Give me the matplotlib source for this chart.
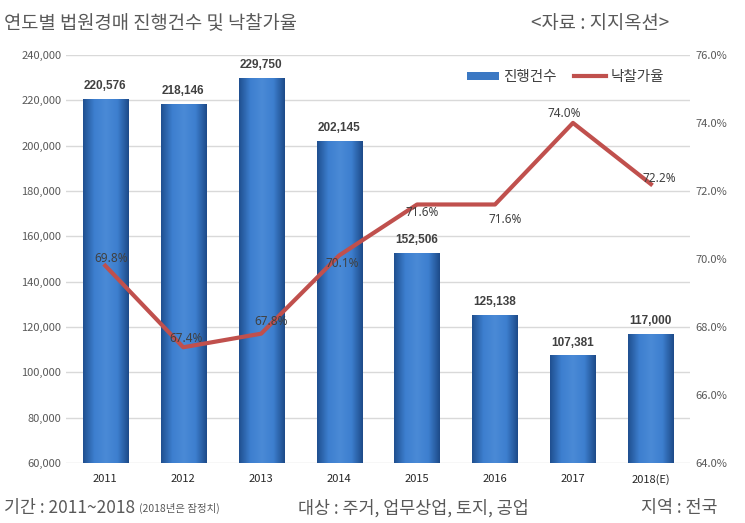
import numpy as np
import matplotlib
matplotlib.use("Agg")
import matplotlib.pyplot as plt
from matplotlib.colors import LinearSegmentedColormap

plt.rcParams['font.family'] = ['Noto Sans CJK KR', 'DejaVu Sans']

# data
years = ["2011", "2012", "2013", "2014", "2015", "2016", "2017", "2018(E)"]
cases = [220576, 218146, 229750, 202145, 152506, 125138, 107381, 117000]
rates = [69.8, 67.4, 67.8, 70.1, 71.6, 71.6, 74.0, 72.2]

# label offsets for the rate labels (points)
rate_offsets = [(4, 5), (2, 6), (7, 9), (2, -6), (4, -6), (7, -11), (-6, 7), (6, 4)]

fig = plt.figure(figsize=(7.45, 5.23), dpi=100)
ax = fig.add_axes([0.089, 0.115, 0.837, 0.78])
ax2 = ax.twinx()

x = np.arange(len(years))
bar_w = 0.58
bars = ax.bar(x, cases, width=bar_w, color="#3b78c3", zorder=2,
              label="진행건수")

# horizontal gradient on each bar
grad = LinearSegmentedColormap.from_list(
    "g", ["#1f4f8f", "#3d7fcf", "#4a8ad6", "#3d7fcf", "#1d4a88"])
img = np.linspace(0, 1, 256).reshape(1, -1)
for b in bars:
    x0, w, h = b.get_x(), b.get_width(), b.get_height()
    im = ax.imshow(img, cmap=grad, aspect="auto", zorder=2.1,
                   extent=[x0, x0 + w, 60000, h])
    im.set_clip_path(b)

for xi, v in zip(x, cases):
    ax.annotate(f"{v:,}", (xi, v), xytext=(0, 5), textcoords="offset points",
                ha="center", va="bottom", fontsize=8.5, fontweight="bold",
                color="#404040", family=["Liberation Sans"], zorder=5)

ax.set_ylim(60000, 240000)
ax.set_yticks(np.arange(60000, 240001, 20000))
ax.set_yticklabels([f"{v:,}" for v in range(60000, 240001, 20000)])
ax.set_xlim(-0.5, len(years) - 0.5)
ax.set_xticks(x)
ax.set_xticklabels(years)
ax.grid(axis="y", color="#d9d9d9", linewidth=1, zorder=0)
ax.set_axisbelow(True)

ax2.plot(x, rates, color="#c0504d", linewidth=3, zorder=4, label="낙찰가율")
for xi, r, off in zip(x, rates, rate_offsets):
    ax2.annotate(f"{r:.1f}%", (xi, r), xytext=off, textcoords="offset points",
                 ha="center", va="center", fontsize=8.5, color="#404040",
                 family=["Noto Sans"], zorder=6)
ax2.set_ylim(64, 76)
ax2.set_yticks(np.arange(64, 76.1, 2))
ax2.set_yticklabels([f"{v:.1f}%" for v in np.arange(64, 76.1, 2)])

for a in (ax, ax2):
    for s in a.spines.values():
        s.set_visible(False)
    a.tick_params(length=0, labelsize=8, labelcolor="#595959")
ax.tick_params(axis="x", pad=8, labelcolor="#262626")
ax2.tick_params(axis="y", pad=4)

h1, l1 = ax.get_legend_handles_labels()
h2, l2 = ax2.get_legend_handles_labels()
ax2.legend(h1 + h2, l1 + l2, loc="upper right", bbox_to_anchor=(0.98, 0.995),
           ncol=2, frameon=False, fontsize=10.5, handlelength=2.2,
           handleheight=0.5, columnspacing=1.2, handletextpad=0.3,
           labelcolor="#404040")

fig.text(0.005, 0.955, "연도별 법원경매 진행건수 및 낙찰가율", fontsize=13.5,
         color="#595959", va="center")
fig.text(0.713, 0.955, "<자료 : 지지옥션>", fontsize=13.5, color="#595959",
         va="center")
fig.text(0.005, 0.028, "기간 : 2011~2018", fontsize=12.5, color="#595959",
         va="center")
fig.text(0.186, 0.028, "(2018년은 잠정치)", fontsize=7.5, color="#595959",
         va="center")
fig.text(0.400, 0.028, "대상 : 주거, 업무상업, 토지, 공업", fontsize=12.5,
         color="#595959", va="center")
fig.text(0.86, 0.028, "지역 : 전국", fontsize=12.5, color="#595959",
         va="center")

fig.savefig("out.png", dpi=100)
